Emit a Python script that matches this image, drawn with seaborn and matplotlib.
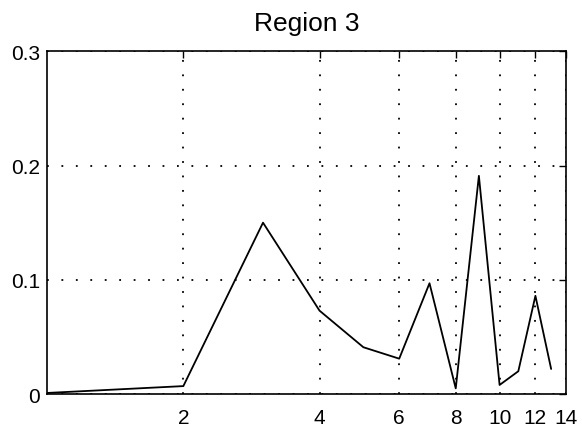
import pandas as pd
import matplotlib.pyplot as plt
import seaborn as sns
from matplotlib.ticker import NullLocator

# data
frequency = [1, 2, 3, 4, 5, 6, 7, 8, 9, 10, 11, 12, 13]
power = [0.001, 0.007, 0.150, 0.073, 0.041, 0.031, 0.097, 0.005, 0.191, 0.008, 0.020, 0.086, 0.022]
x_ticks = [2, 4, 6, 8, 10, 12, 14]
y_ticks = [0, 0.1, 0.2, 0.3]
y_labels = ["0", "0.1", "0.2", "0.3"]

df = pd.DataFrame({"freq": frequency, "power": power})

sns.set_style("white")
plt.rcParams["font.family"] = ["Liberation Sans", "DejaVu Sans"]
plt.rcParams["text.color"] = "black"

fig = plt.figure(figsize=(5.82, 4.39), dpi=100)
ax = fig.add_axes([0.081, 0.100, 0.891, 0.781])

sns.lineplot(data=df, x="freq", y="power", color="black", linewidth=1.3, ax=ax)

ax.set_xscale("log")
ax.set_xlim(1, 14)
ax.set_ylim(0, 0.3)
ax.xaxis.set_minor_locator(NullLocator())
ax.set_xticks(x_ticks)
ax.set_xticklabels([str(t) for t in x_ticks])
ax.set_yticks(y_ticks)
ax.set_yticklabels(y_labels)

ax.grid(True, color="black", linestyle=(0, (1, 7)), linewidth=1.3)
ax.tick_params(axis="both", direction="in", length=5, width=1, labelsize=15,
               top=True, right=True, colors="black")
ax.tick_params(axis="x", pad=10)
ax.tick_params(axis="y", pad=5)
for s in ax.spines.values():
    s.set_color("black")
    s.set_linewidth(1.2)

ax.set_xlabel("")
ax.set_ylabel("")
ax.set_title("Region 3", fontsize=19, pad=15, color="black")

fig.savefig("out.png", dpi=100)
